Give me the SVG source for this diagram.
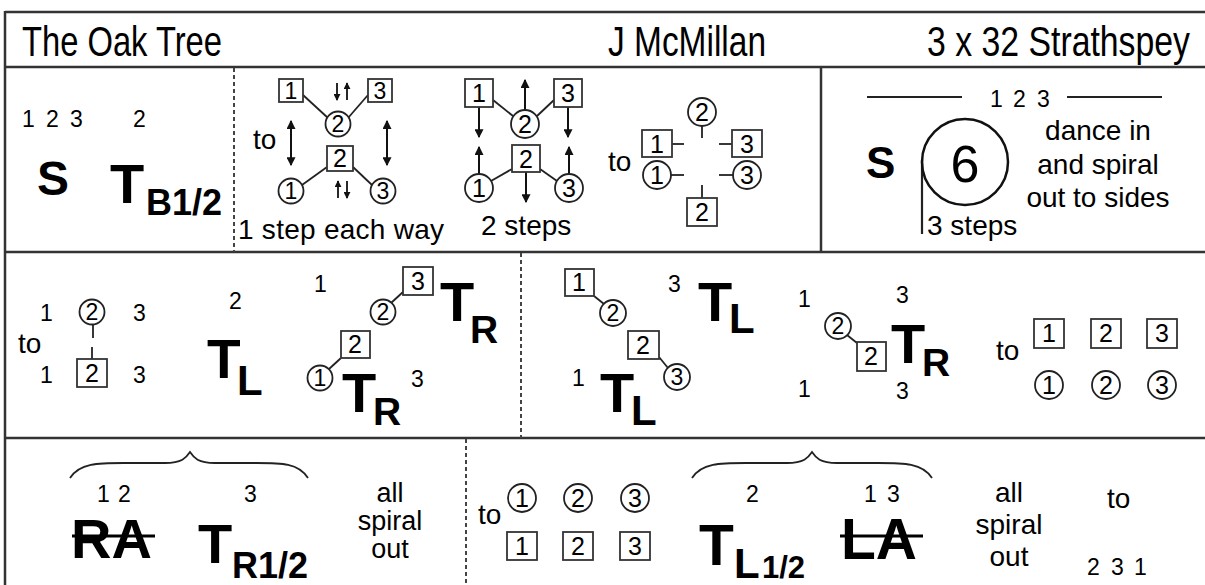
<svg xmlns="http://www.w3.org/2000/svg" width="1205" height="585" viewBox="0 0 1205 585">
<defs>
<marker id="ah" viewBox="0 0 8 8" refX="7" refY="4" markerWidth="9" markerHeight="9" markerUnits="userSpaceOnUse" orient="auto-start-reverse"><path d="M0,0 L8,4 L0,8 z" fill="#111"/></marker>
<marker id="as" viewBox="0 0 8 8" refX="7" refY="4" markerWidth="7" markerHeight="7" markerUnits="userSpaceOnUse" orient="auto-start-reverse"><path d="M0,0 L8,4 L0,8 z" fill="#111"/></marker>
</defs>
<style>
text{font-family:"Liberation Sans",Arial,sans-serif;fill:#000}
.b{font-weight:bold}
.m{text-anchor:middle}
.h{font-size:42px}
.n{font-size:23px}
.w{font-size:28px}
.d{font-size:23px;text-anchor:middle}
.e{font-size:25px;text-anchor:middle}
.frame{stroke:#333;stroke-width:2.5;fill:none}
.dot{stroke:#444;stroke-width:2;stroke-dasharray:4 3;fill:none}
.box{fill:#fff;stroke:#333;stroke-width:1.8}
.circ{fill:#fff;stroke:#222;stroke-width:1.8}
.ln{stroke:#222;stroke-width:1.8;fill:none}
.ar{stroke:#111;stroke-width:2;fill:none;marker-end:url(#ah)}
.ar2{stroke:#111;stroke-width:2;fill:none;marker-end:url(#ah);marker-start:url(#ah)}
.sa{stroke:#111;stroke-width:1.8;fill:none;marker-end:url(#as)}
.strike{stroke:#000;stroke-width:3}
</style>
<rect width="1205" height="585" fill="#fff"/>

<g id="frame">
<line class="frame" x1="5" y1="12" x2="1205" y2="12"/>
<line class="frame" x1="5" y1="11" x2="5" y2="585"/>
<line class="frame" x1="5" y1="67" x2="1205" y2="67"/>
<line class="frame" x1="5" y1="252" x2="1205" y2="252"/>
<line class="frame" x1="5" y1="438" x2="1205" y2="438"/>
<line class="frame" x1="821" y1="67" x2="821" y2="252"/>
<line class="dot" x1="234" y1="68" x2="234" y2="252"/>
<line class="dot" x1="521" y1="253" x2="521" y2="438"/>
<line class="dot" x1="466" y1="439" x2="466" y2="585"/>
</g>

<g id="header">
<text class="h" x="22" y="56" textLength="200" lengthAdjust="spacingAndGlyphs">The Oak Tree</text>
<text class="h" x="608" y="56" textLength="158" lengthAdjust="spacingAndGlyphs">J McMillan</text>
<text class="h" x="927" y="56" textLength="263" lengthAdjust="spacingAndGlyphs">3 x 32 Strathspey</text>
</g>

<g id="connectors">
<line class="ln" x1="303" y1="95" x2="328" y2="118"/>
<line class="ln" x1="348" y1="118" x2="368" y2="95"/>
<line class="sa" x1="337" y1="83" x2="337" y2="100"/>
<line class="sa" x1="347" y1="100" x2="347" y2="83"/>
<line class="ar2" x1="291" y1="121" x2="291" y2="165"/>
<line class="ar2" x1="387" y1="121" x2="387" y2="165"/>
<line class="ln" x1="327" y1="167" x2="302" y2="185"/>
<line class="ln" x1="353" y1="167" x2="372" y2="185"/>
<line class="sa" x1="338" y1="198" x2="338" y2="181"/>
<line class="sa" x1="347" y1="181" x2="347" y2="198"/>
<line class="ln" x1="493" y1="100" x2="513" y2="116"/>
<line class="ln" x1="537" y1="116" x2="554" y2="100"/>
<line class="ar" x1="525" y1="110" x2="525" y2="80"/>
<line class="ar" x1="479" y1="107" x2="479" y2="137"/>
<line class="ar" x1="568" y1="107" x2="568" y2="137"/>
<line class="ar" x1="479" y1="174" x2="479" y2="147"/>
<line class="ar" x1="569" y1="174" x2="569" y2="147"/>
<line class="ar" x1="526" y1="172" x2="526" y2="202"/>
<line class="ln" x1="512" y1="169" x2="491" y2="181"/>
<line class="ln" x1="540" y1="169" x2="557" y2="181"/>
<line class="ln" x1="702" y1="126" x2="702" y2="138"/>
<line class="ln" x1="672" y1="144" x2="684" y2="144"/>
<line class="ln" x1="719" y1="144" x2="732" y2="144"/>
<line class="ln" x1="671" y1="175" x2="684" y2="175"/>
<line class="ln" x1="719" y1="175" x2="733" y2="175"/>
<line class="ln" x1="702" y1="185" x2="702" y2="198"/>
<line class="ln" x1="867" y1="97" x2="962" y2="97"/>
<line class="ln" x1="1067" y1="97" x2="1162" y2="97"/>
<line class="ln" x1="922" y1="160" x2="922" y2="234" style="stroke-width:2.2"/>
<line class="ln" x1="93" y1="325" x2="93" y2="338"/>
<line class="ln" x1="92" y1="347" x2="92" y2="359"/>
<line class="ln" x1="391" y1="303" x2="403" y2="292"/>
<line class="ln" x1="329" y1="369" x2="341" y2="358"/>
<line class="ln" x1="594" y1="296" x2="604" y2="304"/>
<line class="ln" x1="847" y1="335" x2="857" y2="343"/>
<line class="ln" x1="659" y1="357" x2="668" y2="368"/>
<path class="ln" d="M70,478 C80,462 100,463 130,463 L165,463 C182,463 186,458 190,452 C194,458 198,463 215,463 L250,463 C280,463 298,462 308,478"/>
<path class="ln" d="M692,478 C702,462 722,463 752,463 L787,463 C804,463 808,458 812,452 C816,458 820,463 837,463 L872,463 C902,463 922,462 932,478"/>
</g>

<g id="panel-1">
<text class="n" x="22" y="127">1</text>
<text class="n" x="46" y="127">2</text>
<text class="n" x="70" y="127">3</text>
<text class="n" x="133" y="127">2</text>
<text class="b" x="37" y="195" font-size="48">S</text>
<text class="b" x="110" y="203" font-size="56">T</text>
<text class="b" x="146" y="215" font-size="36">B1/2</text>
</g>

<g id="diagram-1">
<rect class="box" x="279" y="79" width="24" height="23"/><text class="d" x="291" y="99">1</text>
<rect class="box" x="368" y="79" width="24" height="23"/><text class="d" x="380" y="99">3</text>
<circle class="circ" cx="338" cy="124" r="12.5"/><text class="d" x="338" y="132">2</text>
<text class="w" x="253" y="149" font-size="26">to</text>
<rect class="box" x="327" y="146" width="26" height="25"/><text class="e" x="340" y="167">2</text>
<circle class="circ" cx="291" cy="191" r="12.5"/><text class="d" x="291" y="199">1</text>
<circle class="circ" cx="383" cy="191" r="12.5"/><text class="d" x="383" y="199">3</text>
<text class="w" x="238" y="239" textLength="206">1 step each way</text>
</g>

<g id="diagram-2">
<rect class="box" x="465" y="79" width="28" height="28"/><text class="e" x="479" y="102">1</text>
<rect class="box" x="554" y="79" width="28" height="28"/><text class="e" x="568" y="102">3</text>
<circle class="circ" cx="525" cy="124" r="14"/><text class="e" x="525" y="133">2</text>
<rect class="box" x="512" y="145" width="28" height="27"/><text class="e" x="526" y="168">2</text>
<circle class="circ" cx="479" cy="188" r="14"/><text class="e" x="479" y="197">1</text>
<circle class="circ" cx="569" cy="188" r="14"/><text class="e" x="569" y="197">3</text>
<text class="w" x="481" y="235">2 steps</text>
</g>

<g id="diagram-3">
<text class="w" x="608" y="171">to</text>
<circle class="circ" cx="702" cy="112" r="14"/><text class="e" x="702" y="121">2</text>
<rect class="box" x="642" y="130" width="30" height="27"/><text class="e" x="657" y="153">1</text>
<rect class="box" x="732" y="130" width="30" height="27"/><text class="e" x="747" y="153">3</text>
<circle class="circ" cx="657" cy="175" r="14"/><text class="e" x="657" y="184">1</text>
<circle class="circ" cx="747" cy="175" r="14"/><text class="e" x="747" y="184">3</text>
<rect class="box" x="687" y="198" width="30" height="28"/><text class="e" x="702" y="221">2</text>
</g>

<g id="panel-spiral">
<text class="n" x="990" y="107">1</text>
<text class="n" x="1013" y="107">2</text>
<text class="n" x="1037" y="107">3</text>
<text class="b" x="866" y="178" font-size="44">S</text>
<circle cx="965" cy="162" r="43" fill="none" stroke="#111" stroke-width="2.5"/>
<text class="m" x="965" y="182" font-size="52">6</text>
<text class="w" x="927" y="235">3 steps</text>
<text class="m" x="1098" y="140" font-size="28">dance in</text>
<text class="m" x="1098" y="174" font-size="28">and spiral</text>
<text class="m" x="1098" y="207" font-size="28">out to sides</text>
</g>

<g id="row3-left">
<text class="n" x="40" y="321" font-size="22">1</text>
<circle class="circ" cx="92" cy="312" r="12.5"/><text class="d" x="92" y="320">2</text>
<text class="n" x="133" y="321" font-size="22">3</text>
<text class="w" x="18" y="353" font-size="26">to</text>
<rect class="box" x="77" y="359" width="30" height="28"/><text class="e" x="92" y="382">2</text>
<text class="n" x="40" y="383" font-size="22">1</text>
<text class="n" x="133" y="383" font-size="22">3</text>
</g>

<g id="row3-turns1">
<text class="n" x="229" y="309">2</text>
<text class="b" x="207" y="378" font-size="55">T</text>
<text class="b" x="237" y="395" font-size="42">L</text>
<text class="n" x="314" y="292" font-size="22">1</text>
<rect class="box" x="403" y="267" width="30" height="28"/><text class="e" x="418" y="290">3</text>
<circle class="circ" cx="383" cy="312" r="12.5"/><text class="d" x="383" y="320">2</text>
<text class="b" x="440" y="321" font-size="56">T</text>
<text class="b" x="470" y="343" font-size="39">R</text>
<rect class="box" x="341" y="331" width="29" height="27"/><text class="e" x="355" y="353">2</text>
<circle class="circ" cx="320" cy="378" r="12.5"/><text class="d" x="320" y="386">1</text>
<text class="b" x="342" y="412" font-size="56">T</text>
<text class="b" x="373" y="425" font-size="39">R</text>
<text class="n" x="411" y="387" font-size="22">3</text>
</g>

<g id="row3-turns2">
<rect class="box" x="565" y="269" width="29" height="27"/><text class="e" x="579" y="291">1</text>
<circle class="circ" cx="613" cy="313" r="13"/><text class="d" x="613" y="321">2</text>
<text class="n" x="668" y="292" font-size="22">3</text>
<text class="b" x="698" y="321" font-size="56">T</text>
<text class="b" x="729" y="333" font-size="42">L</text>
<rect class="box" x="628" y="331" width="31" height="28"/><text class="e" x="643" y="354">2</text>
<circle class="circ" cx="677" cy="377" r="13"/><text class="d" x="677" y="385">3</text>
<text class="n" x="572" y="386" font-size="22">1</text>
<text class="b" x="600" y="412" font-size="56">T</text>
<text class="b" x="631" y="425" font-size="42">L</text>
</g>

<g id="row3-turns3">
<text class="n" x="798" y="307" font-size="22">1</text>
<text class="n" x="896" y="303" font-size="22">3</text>
<circle class="circ" cx="838" cy="326" r="13"/><text class="d" x="838" y="334">2</text>
<rect class="box" x="857" y="342" width="29" height="29"/><text class="e" x="871" y="365">2</text>
<text class="b" x="891" y="363" font-size="56">T</text>
<text class="b" x="922" y="376" font-size="39">R</text>
<text class="n" x="798" y="397" font-size="22">1</text>
<text class="n" x="896" y="399" font-size="22">3</text>
</g>

<g id="row3-end">
<text class="w" x="996" y="360">to</text>
<rect class="box" x="1034" y="319" width="30" height="29"/><text class="e" x="1049" y="342">1</text>
<rect class="box" x="1091" y="319" width="30" height="29"/><text class="e" x="1106" y="342">2</text>
<rect class="box" x="1147" y="319" width="30" height="29"/><text class="e" x="1162" y="342">3</text>
<circle class="circ" cx="1049" cy="385" r="14"/><text class="e" x="1049" y="394">1</text>
<circle class="circ" cx="1106" cy="385" r="14"/><text class="e" x="1106" y="394">2</text>
<circle class="circ" cx="1162" cy="385" r="14"/><text class="e" x="1162" y="394">3</text>
</g>

<g id="row4-left">
<text class="n" x="97" y="502" font-size="24">1</text>
<text class="n" x="118" y="502" font-size="24">2</text>
<text class="n" x="244" y="502" font-size="24">3</text>
<text class="b" x="71" y="558" font-size="56">RA</text>
<line class="strike" x1="72" y1="536" x2="155" y2="536"/>
<text class="b" x="198" y="563" font-size="56">T</text>
<text class="b" x="232" y="578" font-size="36">R1/2</text>
<text class="m" x="390" y="502" font-size="27">all</text>
<text class="m" x="390" y="530" font-size="27">spiral</text>
<text class="m" x="390" y="558" font-size="27">out</text>
</g>

<g id="row4-right">
<text class="w" x="478" y="524" font-size="26">to</text>
<circle class="circ" cx="522" cy="498" r="14"/><text class="e" x="522" y="507">1</text>
<circle class="circ" cx="578" cy="498" r="14"/><text class="e" x="578" y="507">2</text>
<circle class="circ" cx="635" cy="498" r="14"/><text class="e" x="635" y="507">3</text>
<rect class="box" x="507" y="532" width="30" height="28"/><text class="e" x="522" y="555">1</text>
<rect class="box" x="563" y="532" width="30" height="28"/><text class="e" x="578" y="555">2</text>
<rect class="box" x="620" y="532" width="30" height="28"/><text class="e" x="635" y="555">3</text>
<text class="n" x="746" y="502" font-size="24">2</text>
<text class="b" x="699" y="565" font-size="57">T</text>
<text class="b" x="734" y="578" font-size="42">L</text>
<text class="b" x="762" y="578" font-size="31">1/2</text>
<text class="n" x="864" y="502" font-size="24">1</text>
<text class="n" x="887" y="502" font-size="24">3</text>
<text class="b" x="841" y="559" font-size="57">LA</text>
<line class="strike" x1="840" y1="536" x2="923" y2="536"/>
<text class="m" x="1009" y="502" font-size="28">all</text>
<text class="m" x="1009" y="534" font-size="28">spiral</text>
<text class="m" x="1009" y="566" font-size="28">out</text>
<text class="w" x="1107" y="508">to</text>
<text class="n" x="1087" y="575" font-size="25">2</text>
<text class="n" x="1111" y="575" font-size="25">3</text>
<text class="n" x="1134" y="575" font-size="25">1</text>
</g>
</svg>
